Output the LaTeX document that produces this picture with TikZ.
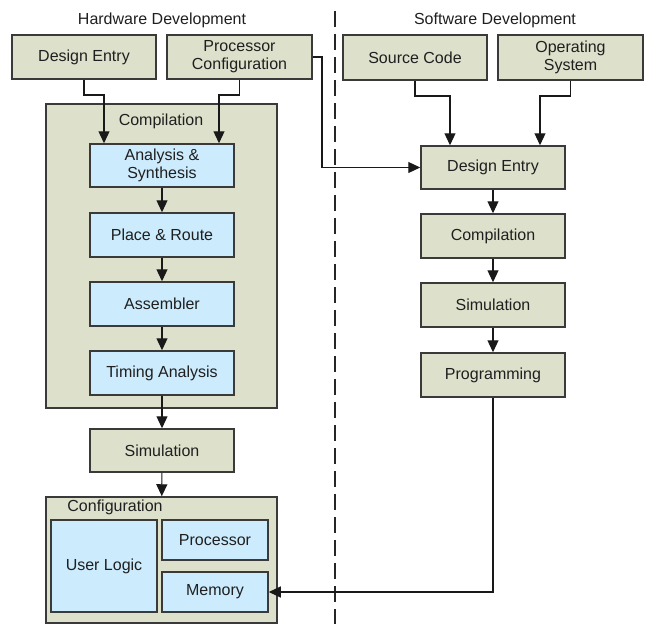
\documentclass[tikz,border=0pt]{standalone}
\usepackage{fontspec}
\setmainfont{Liberation Sans}
\usetikzlibrary{arrows.meta}
\definecolor{gfill}{HTML}{DDE0CB}
\definecolor{bfill}{HTML}{CCEBFD}
\definecolor{bline}{HTML}{3A3A3A}
\tikzset{
  gbox/.style={draw=bline, line width=1.5pt, fill=gfill, inner sep=0pt, align=center,
    font=\fontsize{16}{18}\selectfont, text=black!88},
  bbox/.style={draw=bline, line width=1.5pt, fill=bfill, inner sep=0pt, align=center,
    font=\fontsize{16}{18}\selectfont, text=black!88},
  lbl/.style={font=\fontsize{16}{18}\selectfont, text=black!88, inner sep=0pt},
  arr/.style={draw=black!90, line width=1.2pt, -{Triangle[length=12pt,width=11pt]}},
  ln/.style={draw=black!90, line width=1.2pt},
}
\begin{document}
\begin{tikzpicture}[x=1pt,y=-1pt]
\useasboundingbox (0,0) rectangle (648,624);
% divider
\draw[line width=1.2pt, black!85, dash pattern=on 16pt off 7pt] (335,11) -- (335,624);
% titles
\node[lbl] (hwt) at (162,20) {Hardware Development};
\node[lbl] (swt) at (495,20) {Software Development};
% hardware side
\node[gbox, minimum width=144pt, minimum height=44pt] (hde) at (84,57) {Design Entry};
\node[gbox, minimum width=145pt, minimum height=44pt] (hpc) at (239.5,57) {Processor\\Configuration};
\node[gbox, minimum width=231pt, minimum height=304pt] (comp) at (161.5,256) {};
\node[lbl] (compl) at (161,121) {Compilation};
\node[bbox, minimum width=144pt, minimum height=43pt] (as) at (162,165.5) {Analysis \&\\Synthesis};
\node[bbox, minimum width=144pt, minimum height=44pt] (pr) at (162,235) {Place \& Route};
\node[bbox, minimum width=144pt, minimum height=44pt] (asm) at (162,304) {Assembler};
\node[bbox, minimum width=144pt, minimum height=44pt] (ta) at (162,373) {Timing Analysis};
\node[gbox, minimum width=144pt, minimum height=43pt] (hsim) at (162,450.5) {Simulation};
\node[gbox, minimum width=231pt, minimum height=126pt] (conf) at (161.5,560) {};
\node[lbl] (confl) at (115,507) {Configuration};
\node[bbox, minimum width=106pt, minimum height=92pt] (ul) at (104,566) {User Logic};
\node[bbox, minimum width=106pt, minimum height=40pt] (proc) at (215,540) {Processor};
\node[bbox, minimum width=106pt, minimum height=40pt] (mem) at (215,592) {Memory};
% software side
\node[gbox, minimum width=144pt, minimum height=45pt] (sc) at (415,57.5) {Source Code};
\node[gbox, minimum width=145pt, minimum height=45pt] (os) at (570.5,57.5) {Operating\\System};
\node[gbox, minimum width=144pt, minimum height=43pt] (sde) at (493,167.5) {Design Entry};
\node[gbox, minimum width=144pt, minimum height=44pt] (scomp) at (493,236) {Compilation};
\node[gbox, minimum width=144pt, minimum height=44pt] (ssim) at (493,305) {Simulation};
\node[gbox, minimum width=144pt, minimum height=44pt] (sprog) at (493,375) {Programming};
% connector bends
\coordinate (b1) at (104,95);
\coordinate (b2) at (219,95);
\coordinate (b3) at (322,0);
\coordinate (b4) at (450,96);
\coordinate (b5) at (540,96);
% hardware connectors
\draw[arr] (hde.south) |- (b1) -- (as.north -| b1);
\draw[arr] (hpc.south) |- (b2) -- (as.north -| b2);
\draw[arr] (as) -- (pr);
\draw[arr] (pr) -- (asm);
\draw[arr] (asm) -- (ta);
\draw[arr] (ta.south) -- (hsim.north);
\draw[arr] (hsim) -- (conf);
\draw[arr] (hpc.east) -| (b3 |- sde.west) -- (sde.west);
% software connectors
\draw[arr] (sc.south) |- (b4) -- (sde.north -| b4);
\draw[arr] (os.south) |- (b5) -- (sde.north -| b5);
\draw[arr] (sde) -- (scomp);
\draw[arr] (scomp) -- (ssim);
\draw[arr] (ssim) -- (sprog);
\draw[arr] (sprog.south) |- (mem.east);
\end{tikzpicture}
\end{document}
